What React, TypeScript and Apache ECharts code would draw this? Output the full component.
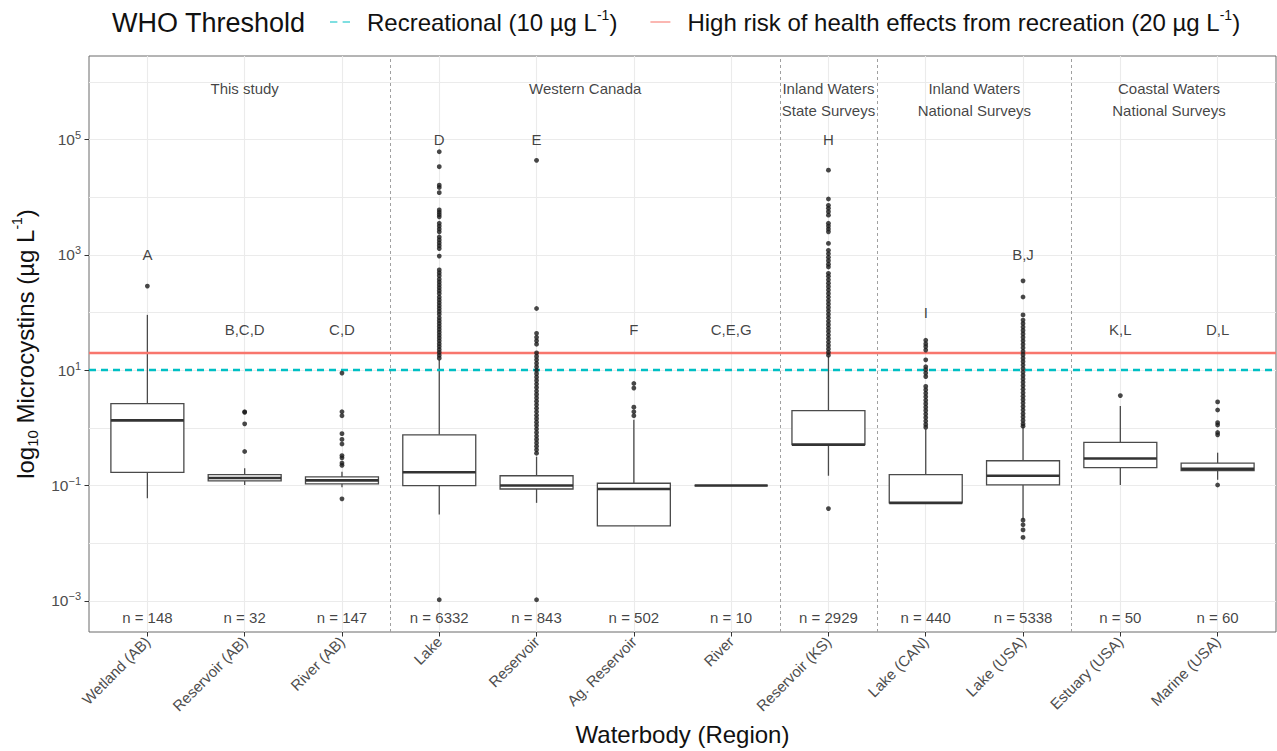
import React, { useEffect, useRef } from 'react';
import * as echarts from 'echarts';

// ---------- data (log10 units) ----------
const categories = [
  'Wetland (AB)', 'Reservoir (AB)', 'River (AB)', 'Lake', 'Reservoir', 'Ag. Reservoir',
  'River', 'Reservoir (KS)', 'Lake (CAN)', 'Lake (USA)', 'Estuary (USA)', 'Marine (USA)',
];
const boxMin = [-1.22, -0.99, -1.03, -1.5, -1.3, -1.7, -1.0, -0.83, -1.3, -1.59, -0.99, -0.9];
const boxQ1 = [-0.77, -0.92, -0.97, -1.0, -1.06, -1.7, -1.0, -0.29, -1.3, -0.99, -0.69, -0.74];
const boxMedian = [0.13, -0.87, -0.91, -0.77, -1.0, -1.06, -1.0, -0.29, -1.3, -0.83, -0.53, -0.71];
const boxQ3 = [0.42, -0.81, -0.85, -0.12, -0.83, -0.96, -1.0, 0.3, -0.81, -0.57, -0.25, -0.61];
const boxMax = [1.96, -0.7, -0.76, 1.18, -0.5, 0.14, -1.0, 1.24, -0.03, 0.02, 0.38, -0.43];

const outlierValues: number[][] = [
  [2.46],
  [0.28, 0.27, 0.07, -0.41],
  [0.95, 0.28, 0.21, -0.1, -0.2, -0.28, -0.48, -0.52, -0.61, -0.65, -1.23],
  [4.79, 4.53, 4.21, 4.17, 4.08, 3.78, 3.74, 3.7, 3.66, 3.55, 3.5, 3.45, 3.4, 3.31, 3.26, 3.21, 3.16, 3.11,
    2.98, 2.74, 2.69, 2.64, 2.58, 2.53, 2.48, 2.43, 2.38, 2.33, 2.27, 2.22, 2.17, 2.12, 2.07, 2.02, 1.97,
    1.91, 1.86, 1.81, 1.76, 1.71, 1.66, 1.61, 1.56, 1.51, 1.46, 1.41, 1.36, 1.31, 1.26, 1.21, -2.98],
  [4.64, 2.07, 1.64, 1.57, 1.51, 1.45, 1.3, 1.24, 1.18, 1.12, 1.06, 1.0, 0.94, 0.88, 0.82, 0.76, 0.7,
    0.64, 0.58, 0.52, 0.46, 0.4, 0.34, 0.28, 0.22, 0.16, 0.1, 0.04, -0.02, -0.08, -0.14, -0.2, -0.26,
    -0.32, -0.38, -0.44, -2.98],
  [0.77, 0.69, 0.36, 0.28, 0.21],
  [],
  [4.47, 3.97, 3.86, 3.81, 3.75, 3.69, 3.55, 3.5, 3.45, 3.4, 3.2, 3.08, 3.02, 2.96, 2.9, 2.84, 2.79,
    2.68, 2.63, 2.57, 2.51, 2.45, 2.39, 2.33, 2.27, 2.21, 2.15, 2.09, 2.03, 1.97, 1.91, 1.85, 1.79,
    1.73, 1.67, 1.61, 1.55, 1.49, 1.43, 1.37, 1.31, 1.26, -1.4],
  [1.52, 1.46, 1.41, 1.35, 1.18, 1.06, 1.01, 0.95, 0.89, 0.72, 0.66, 0.6, 0.54, 0.48, 0.42, 0.36, 0.3,
    0.24, 0.18, 0.12, 0.06, 0.01],
  [2.55, 2.27, 1.96, 1.87, 1.81, 1.75, 1.69, 1.63, 1.57, 1.51, 1.45, 1.39, 1.33, 1.27, 1.21, 1.15,
    1.09, 1.03, 0.97, 0.91, 0.85, 0.79, 0.73, 0.67, 0.61, 0.55, 0.49, 0.43, 0.37, 0.31, 0.25, 0.19,
    0.13, 0.07, 0.03, -1.6, -1.68, -1.77, -1.9],
  [0.56],
  [0.45, 0.31, 0.09, 0.05, -0.08, -0.12, -0.99],
];

const sampleSizes = [148, 32, 147, 6332, 843, 502, 10, 2929, 440, 5338, 50, 60];
const letterLabels = ['A', 'B,C,D', 'C,D', 'D', 'E', 'F', 'C,E,G', 'H', 'I', 'B,J', 'K,L', 'D,L'];
const letterLevels = [3.0, 1.7, 1.7, 5.0, 5.0, 1.7, 1.7, 5.0, 2.0, 3.0, 1.7, 1.7];
const sampleSizeLevel = -3.29;

const groupNames = ['This study', 'Western Canada', 'Inland Waters\nState Surveys', 'Inland Waters\nNational Surveys', 'Coastal Waters\nNational Surveys'];
const groupCenters = [1, 4.5, 7, 8.5, 10.5];
const groupLevels = [5.88, 5.88, 5.7, 5.7, 5.7];
const groupBoundaries = [2.5, 6.5, 7.5, 9.5];

const yTickExponents = [-3, -1, 1, 3, 5];
const yGridExponents = [-3, -2, -1, 0, 1, 2, 3, 4, 5, 6];

const thresholdNames = ['Recreational', 'High risk of health effects from recreation'];
const thresholdValues = [10, 20];
const thresholdColors = ['#00BFC4', '#F8766D'];
const thresholdIcons = ['path://M0,0H7V1H0Z M12,0H19V1H12Z', 'path://M0,0H19V1H0Z'];

// ---------- style ----------
const FONT = 'Liberation Sans, Arial, sans-serif';
const BOX_WIDTH = 0.75;
const BOX_STROKE = '#4a4a4a';

export default function App() {
  const ref = useRef<HTMLDivElement>(null);

  useEffect(() => {
    if (!ref.current) return;
    const chart = echarts.init(ref.current, undefined, { renderer: 'svg' });

    const catIdx = categories.map((_, i) => i);
    const boxData = categories.map((_, i) => [i, boxMin[i], boxQ1[i], boxMedian[i], boxQ3[i], boxMax[i]]);
    const outlierData: number[][] = [];
    outlierValues.forEach((vals, i) => vals.forEach((v) => outlierData.push([i, v])));

    const textSeries = (name: string, data: any[], extra: any = {}) => ({
      type: 'scatter',
      name,
      silent: true,
      z: 6,
      symbolSize: 1,
      itemStyle: { color: 'transparent' },
      data,
      label: {
        show: true,
        position: 'inside',
        formatter: '{b}',
        color: '#111',
        fontSize: 15,
        fontFamily: FONT,
        ...extra,
      },
    });

    const supText = (v: number) => (v < 0 ? '\u2212' + Math.abs(v) : String(v));

    const option: any = {
      animation: false,
      backgroundColor: '#ffffff',
      textStyle: { fontFamily: FONT },
      title: {
        text: 'WHO Threshold',
        left: 112,
        top: 9,
        padding: 0,
        textStyle: { fontSize: 27, fontWeight: 'normal', color: '#111', fontFamily: FONT },
      },
      legend: {
        left: 330,
        top: 8,
        padding: 0,
        itemWidth: 20,
        itemHeight: 2.5,
        itemGap: 33,
        data: thresholdNames.map((name, i) => ({
          name,
          icon: thresholdIcons[i],
          itemStyle: { color: thresholdColors[i], borderWidth: 0 },
        })),
        formatter: (name: string) => {
          const i = thresholdNames.indexOf(name);
          return `{p|${name} (${thresholdValues[i]} µg L}{s|-1}{a|)}`;
        },
        textStyle: {
          fontSize: 24,
          color: '#111',
          fontFamily: FONT,
          rich: {
            p: { fontSize: 24, lineHeight: 28, padding: [0, 0, 0, 12], color: '#111', fontFamily: FONT },
            a: { fontSize: 24, lineHeight: 28, color: '#111', fontFamily: FONT },
            s: { fontSize: 14, lineHeight: 14, verticalAlign: 'top', color: '#111', fontFamily: FONT },
          },
        },
      },
      grid: {
        left: 89,
        top: 56,
        width: 1187,
        height: 576,
        show: true,
        borderColor: '#6a6a6a',
        borderWidth: 1,
        backgroundColor: 'transparent',
        containLabel: false,
        outerBoundsMode: 'none',
      },
      xAxis: {
        type: 'value',
        min: -0.6,
        max: 11.6,
        name: 'Waterbody (Region)',
        nameLocation: 'middle',
        nameGap: 90,
        nameTextStyle: { fontSize: 24, color: '#111', fontFamily: FONT },
        axisLine: { show: false, onZero: false },
        splitLine: { show: false },
        axisTick: { show: true, customValues: catIdx, length: 4.5, lineStyle: { color: '#333', width: 1 } },
        axisLabel: {
          customValues: catIdx,
          rotate: 45,
          margin: 7,
          fontSize: 15,
          color: '#4d4d4d',
          fontFamily: FONT,
          formatter: (v: number) => categories[Math.round(v)] ?? '',
        },
      },
      yAxis: {
        type: 'value',
        min: -3.54,
        max: 6.45,
        name: '{a|log}{sub|10}{a| Microcystins (µg L}{sup|-1}{a|)}',
        nameLocation: 'middle',
        nameGap: 44,
        nameTextStyle: {
          fontSize: 24,
          color: '#111',
          fontFamily: FONT,
          rich: {
            a: { fontSize: 24, lineHeight: 30, color: '#111', fontFamily: FONT },
            sub: { fontSize: 15, lineHeight: 15, verticalAlign: 'bottom', color: '#111', fontFamily: FONT },
            sup: { fontSize: 14, lineHeight: 14, verticalAlign: 'top', color: '#111', fontFamily: FONT },
          },
        },
        axisLine: { show: false, onZero: false },
        splitLine: { show: false },
        axisTick: { show: true, customValues: yTickExponents, length: 4.5, lineStyle: { color: '#333', width: 1 } },
        axisLabel: {
          customValues: yTickExponents,
          margin: 8,
          color: '#4d4d4d',
          formatter: (v: number) => `{b|10}{s|${supText(v)}}`,
          rich: {
            b: { fontSize: 15.5, lineHeight: 20, color: '#4d4d4d', fontFamily: FONT },
            s: { fontSize: 11, lineHeight: 12, verticalAlign: 'top', color: '#4d4d4d', fontFamily: FONT },
          },
        },
      },
      series: [
        {
          type: 'scatter',
          name: 'grid',
          silent: true,
          z: 0,
          data: [],
          markLine: {
            silent: true,
            symbol: 'none',
            z: 0,
            label: { show: false },
            lineStyle: { color: '#ebebeb', width: 1.1, type: 'solid' },
            data: [
              ...yGridExponents.map((e) => ({ yAxis: e })),
              ...catIdx.map((i) => ({ xAxis: i })),
            ],
          },
        },
        {
          type: 'scatter',
          name: 'groups',
          silent: true,
          z: 1,
          data: [],
          markLine: {
            silent: true,
            symbol: 'none',
            z: 1,
            label: { show: false },
            lineStyle: { color: '#a0a0a0', width: 1, type: [3, 3] },
            data: groupBoundaries.map((b) => ({ xAxis: b })),
          },
        },
        {
          type: 'custom',
          name: 'boxes',
          silent: true,
          z: 2,
          data: boxData,
          encode: { x: 0, y: [1, 2, 3, 4, 5] },
          renderItem: (params: any, api: any) => {
            const x = api.value(0);
            const pLo = api.coord([x, api.value(1)]);
            const pQ1 = api.coord([x, api.value(2)]);
            const pMed = api.coord([x, api.value(3)]);
            const pQ3 = api.coord([x, api.value(4)]);
            const pHi = api.coord([x, api.value(5)]);
            const halfW = api.size([BOX_WIDTH, 0])[0] / 2;
            const cx = pMed[0];
            const stroke = { stroke: BOX_STROKE, lineWidth: 1.3 };
            return {
              type: 'group',
              children: [
                { type: 'line', shape: { x1: cx, y1: pHi[1], x2: cx, y2: pQ3[1] }, style: stroke },
                { type: 'line', shape: { x1: cx, y1: pQ1[1], x2: cx, y2: pLo[1] }, style: stroke },
                {
                  type: 'rect',
                  shape: { x: cx - halfW, y: pQ3[1], width: halfW * 2, height: pQ1[1] - pQ3[1] },
                  style: { fill: '#ffffff', ...stroke },
                },
                {
                  type: 'line',
                  shape: { x1: cx - halfW, y1: pMed[1], x2: cx + halfW, y2: pMed[1] },
                  style: { stroke: '#333333', lineWidth: 2.6 },
                },
              ],
            };
          },
        },
        ...thresholdNames.map((name, i) => ({
          type: 'line',
          name,
          silent: true,
          z: 3,
          symbol: 'none',
          showSymbol: false,
          data: [],
          itemStyle: { color: thresholdColors[i] },
          lineStyle: { color: thresholdColors[i], width: 2.4, type: i === 0 ? [7, 5] : 'solid' },
          markLine: {
            silent: true,
            symbol: 'none',
            z: 3,
            label: { show: false },
            lineStyle: { color: thresholdColors[i], width: 2.4, type: i === 0 ? [7, 5] : 'solid' },
            data: [{ yAxis: Math.log10(thresholdValues[i]) }],
          },
        })),
        {
          type: 'scatter',
          name: 'outliers',
          silent: true,
          z: 4,
          symbolSize: 4.8,
          itemStyle: { color: '#1a1a1a' },
          data: outlierData,
        },
        textSeries('letters', letterLabels.map((t, i) => ({ name: t, value: [i, letterLevels[i]] }))),
        textSeries('n', sampleSizes.map((n, i) => ({ name: `n = ${n}`, value: [i, sampleSizeLevel] }))),
        textSeries(
          'groupNames',
          groupNames.map((t, i) => ({ name: t, value: [groupCenters[i], groupLevels[i]] })),
          { lineHeight: 22 },
        ),
      ],
    };

    chart.setOption(option);
    return () => chart.dispose();
  }, []);

  return (
    <div
      ref={ref}
      style={{ position: 'fixed', left: 0, top: 0, width: 1277, height: 751, background: '#fff' }}
    />
  );
}
